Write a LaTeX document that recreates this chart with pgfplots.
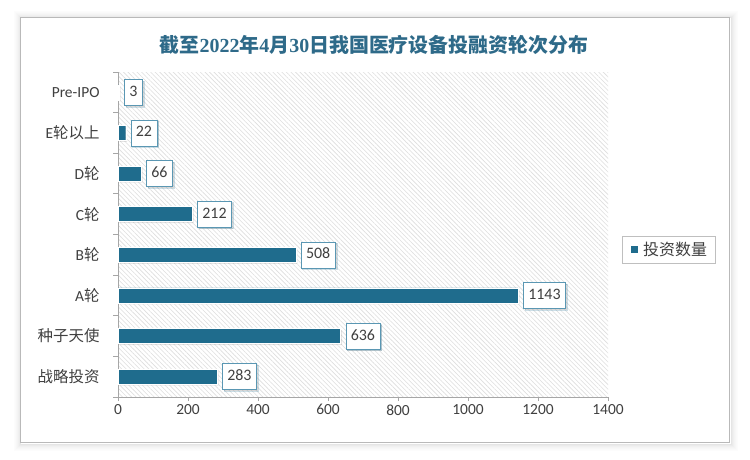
\documentclass[border=0pt]{standalone}
\usepackage{fontspec}
\setmainfont{Carlito}
\newfontfamily\cjk{Noto Sans CJK SC}
\newfontfamily\titleserif{Liberation Serif}
\usepackage{pgfplots}
\pgfplotsset{compat=1.18}
\usetikzlibrary{patterns,patterns.meta,shadows}
\definecolor{barc}{HTML}{1F6C8D}
\definecolor{titc}{HTML}{2E6A89}
\definecolor{boxc}{HTML}{5A97B3}
\definecolor{txt}{HTML}{404040}
\begin{document}
\begin{tikzpicture}
\path (0bp,0bp) rectangle (750bp,460bp);
\foreach \i/\o in {1/0.10,2/0.08,3/0.06,4/0.045,5/0.03,6/0.02,7/0.012}{
  \draw[black, opacity=\o, line width=1bp] ({(21.5-\i)*1bp}, {(16.5-\i)*1bp}) rectangle ({(730.5+\i)*1bp}, {(441.5+\i)*1bp});
}
\fill[white] (20bp,18bp) rectangle (729bp,443bp);
\draw[gray!55, line width=0.8bp] (20bp,18bp) rectangle (729bp,443bp);
\node[text=titc, font=\fontsize{20}{22}\selectfont\bfseries] at (374bp,415bp)
  {{\cjk 截至}{\titleserif 2022}{\cjk 年}{\titleserif 4}{\cjk 月}{\titleserif 30}{\cjk 日我国医疗设备投融资轮次分布}};
\begin{axis}[
  at={(118bp,63bp)}, anchor=south west,
  scale only axis, width=490bp, height=325bp,
  xmin=0, xmax=1400, ymin=-0.5, ymax=7.5,
  xbar, bar width=15bp,
  axis lines*=left,
  axis line style={gray!70, line width=0.8bp, -},
  xtick={0,200,...,1400},
  ytick={0,...,7},
  yticklabels={{\cjk 战略投资},{\cjk 种子天使},A{\cjk 轮},B{\cjk 轮},C{\cjk 轮},D{\cjk 轮},E{\cjk 轮以上},Pre-IPO},
  minor ytick={-0.5,0.5,...,7.5},
  tick align=outside,
  major tick length=4bp,
  minor tick length=5bp,
  every major y tick/.style={draw=none},
  every minor y tick/.style={gray!70, line width=0.8bp},
  every major x tick/.style={gray!70, line width=0.8bp},
  /pgf/number format/assume math mode=true,
  /pgf/number format/1000 sep={},
  xticklabel style={font=\fontsize{15.5}{17}\selectfont, text=txt},
  yticklabel style={font=\fontsize{15.5}{17}\selectfont, text=txt, xshift=-11bp},
  axis background/.style={pattern={Lines[angle=-45, distance=3.2bp, line width=0.6bp]}, pattern color=black!13},
  nodes near coords,
  nodes near coords style={anchor=west, xshift=5bp, draw=boxc, fill=white, text=txt,
    font=\fontsize{16}{18}\selectfont, inner xsep=5bp, text height=11bp, text depth=3bp, inner ysep=6bp,
    drop shadow={opacity=0.3, shadow xshift=1.5bp, shadow yshift=-1.5bp}},
  legend style={at={(1,0.5)}, anchor=west, xshift=14bp, yshift=-15bp, draw=gray!50,
    font=\fontsize{16}{18}\selectfont, text=txt, inner xsep=6bp, inner ysep=4bp},
  legend image code/.code={%
    \pgfpathmoveto{\pgfpoint{0bp}{0bp}}\pgfpathlineto{\pgfpoint{13bp}{0bp}}\pgfusepath{}%
    \pgfpathrectangle{\pgfpoint{3bp}{-3.5bp}}{\pgfpoint{7bp}{7bp}}\pgfsetfillcolor{barc}\pgfusepath{fill}},
]
\addplot[fill=barc, draw=white, line width=0.4bp,
  drop shadow={opacity=0.2, shadow xshift=1.5bp, shadow yshift=-1.5bp}]
  coordinates {(283,0) (636,1) (1143,2) (508,3) (212,4) (66,5) (22,6) (3,7)};
\addlegendentry{\cjk 投资数量}
\end{axis}
\end{tikzpicture}
\end{document}
